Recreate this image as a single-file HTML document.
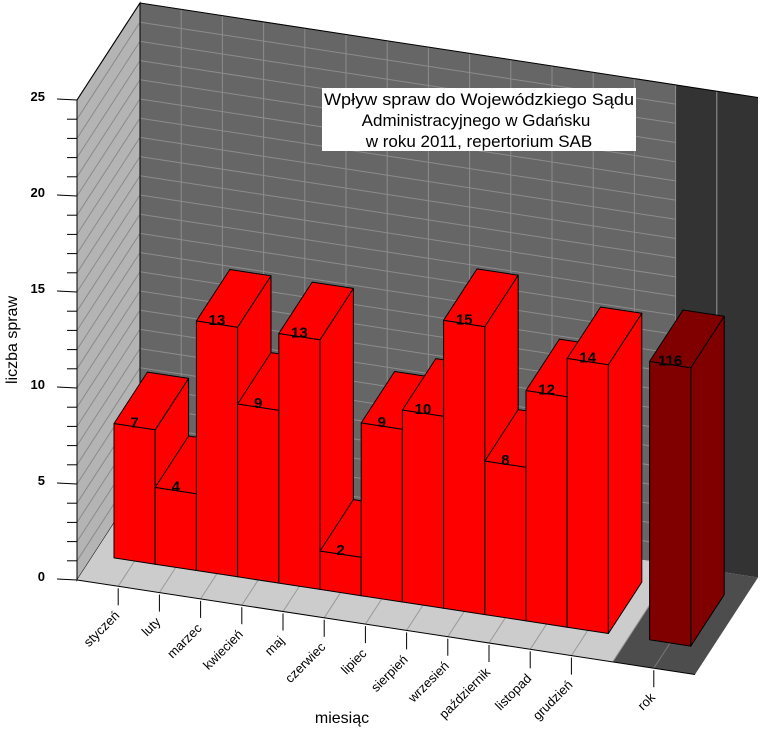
<!DOCTYPE html>
<html><head><meta charset="utf-8">
<style>
html,body{margin:0;padding:0;background:#fff;}
svg{display:block;font-family:"Liberation Sans",Arial,sans-serif;}
</style></head>
<body>
<svg id="chart" width="761" height="737" viewBox="0 0 761 737" xmlns="http://www.w3.org/2000/svg">
<g id="walls"></g>
<g id="grid"></g>
<g id="bars"></g>
<g id="axes"></g>
<rect x="322" y="88" width="314" height="63" fill="#fff"/>
<g font-size="17" text-anchor="middle" fill="#000">
<text x="479" y="105" textLength="310" lengthAdjust="spacingAndGlyphs">Wpływ spraw do Wojewódzkiego Sądu</text>
<text x="476" y="126">Administracyjnego w Gdańsku</text>
<text x="479" y="147">w roku 2011, repertorium SAB</text>
</g>
<text transform="translate(17,340) rotate(-90)" font-size="16" text-anchor="middle">liczba spraw</text>
<text x="342" y="723" font-size="16" text-anchor="middle">miesiąc</text>
</svg>
<script>
const months = ['styczeń','luty','marzec','kwiecień','maj','czerwiec','lipiec','sierpień','wrzesień','październik','listopad','grudzień'];
const values = [7,4,13,9,13,2,9,10,15,8,12,14];
const rokLabels = ['rok'];
const rokValues = [116];
const yTicks = [0,5,10,15,20,25];
const yMax = 25;
const rokAxisMax = 200;

const NS='http://www.w3.org/2000/svg';
const OX=77, OY=580, UX=41.2, UY=6.3, VY=19.2, WX=63, WY=-97;
function P(t,v,d){return [OX+UX*t+WX*d, OY+UY*t-VY*v+WY*d];}
function vScale(v){return v;}
function rokScale(v){return v/rokAxisMax*yMax;}
function pts(a){return a.map(p=>p[0].toFixed(1)+','+p[1].toFixed(1)).join(' ');}
function mk(parent,tag,attrs){const e=document.createElementNS(NS,tag);for(const k in attrs)e.setAttribute(k,attrs[k]);parent.appendChild(e);return e;}
const walls=document.getElementById('walls'), grid=document.getElementById('grid'), bars=document.getElementById('bars'), axes=document.getElementById('axes');
const TEND=15, TLIGHT=13;

// walls
let e;
e=mk(walls,'polygon',{points:pts([P(0,0,0),P(0,yMax,0),P(0,yMax,1),P(0,0,1)]),fill:'#b4b4b4',stroke:'#000','stroke-width':1});


e=mk(walls,'polygon',{points:pts([P(0,0,1),P(0,yMax,1),P(TLIGHT,yMax,1),P(TLIGHT,0,1)]),fill:'#666666'});


e=mk(walls,'polygon',{points:pts([P(TLIGHT,0,1),P(TLIGHT,yMax,1),P(TEND,yMax,1),P(TEND,0,1)]),fill:'#333333'});


e=mk(walls,'polygon',{points:pts([P(0,0,0),P(0,0,1),P(TLIGHT,0,1),P(TLIGHT,0,0)]),fill:'#cccccc'});


e=mk(walls,'polygon',{points:pts([P(TLIGHT,0,0),P(TLIGHT,0,1),P(TEND,0,1),P(TEND,0,0)]),fill:'#4d4d4d'});



// grid
for(let v=1;v<=yMax;v++){
  const a=P(0,v,1), b=P(TLIGHT,v,1);
  e=mk(grid,'line',{x1:a[0],y1:a[1],x2:b[0],y2:b[1],stroke:'#8c8c8c','stroke-width':1});
  
  
  const c=P(0,v,0), d=P(0,v,1);
  e=mk(grid,'line',{x1:c[0],y1:c[1],x2:d[0],y2:d[1],stroke:'#8a8a8a','stroke-width':1});
  
  
}
for(let t=1;t<TEND;t++){
  const a=P(t,0,1), b=P(t,yMax,1);
  e=mk(grid,'line',{x1:a[0],y1:a[1],x2:b[0],y2:b[1],stroke:t>TLIGHT?'#999':'#8c8c8c','stroke-width':1});
  
  
  const c=P(t,0,0), d=P(t,0,1);
  e=mk(grid,'line',{x1:c[0],y1:c[1],x2:d[0],y2:d[1],stroke:t>TLIGHT?'#777':'#999','stroke-width':1});
  
  
}
e=mk(grid,'polyline',{points:pts([P(0,yMax,0),P(0,yMax,1),P(TEND,yMax,1)]),fill:'none',stroke:'#000','stroke-width':1});


e=mk(grid,'line',{x1:P(0,0,1)[0],y1:P(0,0,1)[1],x2:P(0,yMax,1)[0],y2:P(0,yMax,1)[1],stroke:'#000','stroke-width':1});



// bars
const D0=0.26, D1=0.79;
function bar(t,h,color,label,name){
  const g=mk(bars,'g',{});
  
  
  const t0=t-0.5,t1=t+0.5;
  const st={fill:color,stroke:'#000','stroke-width':1,'stroke-linejoin':'round'};
  let f=mk(g,'polygon',Object.assign({points:pts([P(t0,0,D0),P(t0,h,D0),P(t1,h,D0),P(t1,0,D0)])},st));
  
  
  f=mk(g,'polygon',Object.assign({points:pts([P(t1,0,D0),P(t1,h,D0),P(t1,h,D1),P(t1,0,D1)])},st));
  
  
  f=mk(g,'polygon',Object.assign({points:pts([P(t0,h,D0),P(t0,h,D1),P(t1,h,D1),P(t1,h,D0)])},st));
  
  
  const c=P(t,h,D0);
  const tx=mk(g,'text',{x:c[0],y:c[1]+1,'font-size':15,'font-weight':'bold','text-anchor':'middle',fill:'#000'});
  
  
  tx.textContent=label;
}
values.forEach((v,i)=>bar(i+1,vScale(v),'#ff0000',String(v),'bar-'+months[i]));
rokValues.forEach((v,i)=>bar(14+i,rokScale(v),'#800000',String(v),'bar-'+rokLabels[i]));

// y axis
yTicks.forEach(v=>{
  const p=P(0,v,0);
  e=mk(axes,'line',{x1:p[0]-20,y1:p[1]-1,x2:p[0],y2:p[1],stroke:'#000','stroke-width':1});
  
  
  const tx=mk(axes,'text',{x:p[0]-32,y:p[1]+1,'font-size':13,'font-weight':'bold','text-anchor':'end'});
  
  
  tx.textContent=v;
});
for(let v=0;v<=yMax;v++){ if(v%5===0) continue;
  const p=P(0,v,0);
  e=mk(axes,'line',{x1:p[0]-10,y1:p[1],x2:p[0],y2:p[1],stroke:'#000','stroke-width':1});
  
  
}
e=mk(axes,'line',{x1:P(0,0,0)[0],y1:P(0,0,0)[1],x2:P(0,yMax,0)[0],y2:P(0,yMax,0)[1],stroke:'#000','stroke-width':1});


e=mk(axes,'line',{x1:P(0,0,0)[0],y1:P(0,0,0)[1],x2:P(TEND,0,0)[0],y2:P(TEND,0,0)[1],stroke:'#000','stroke-width':1});



// x axis
const cats=months.map((m,i)=>[m,i+1]).concat(rokLabels.map((r,i)=>[r,14+i]));
cats.forEach(([name,t])=>{
  const p=P(t,0,0);
  e=mk(axes,'line',{x1:p[0],y1:p[1]+2,x2:p[0],y2:p[1]+19,stroke:'#000','stroke-width':1});
  
  
  const x=p[0]+2, y=p[1]+30;
  const tx=mk(axes,'text',{x:x,y:y,'font-size':13,'text-anchor':'end',transform:'rotate(-45 '+x+' '+y+')'});
  
  
  tx.textContent=name;
});
</script>
</body></html>
